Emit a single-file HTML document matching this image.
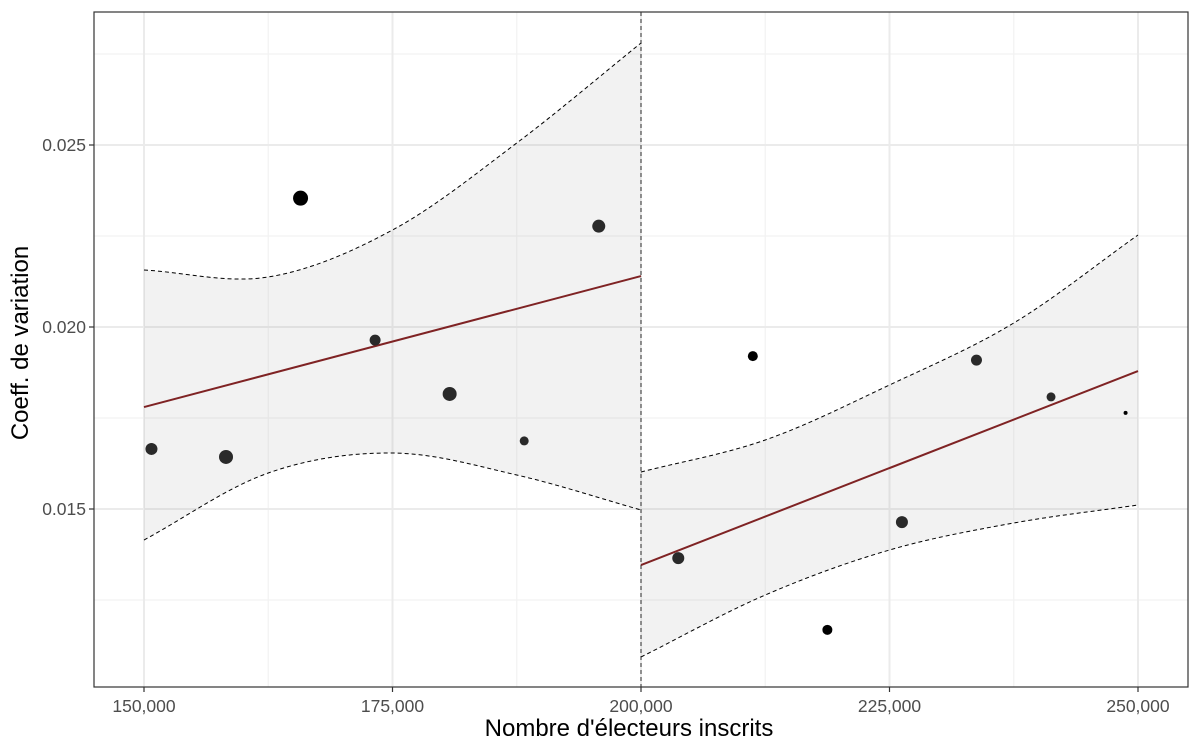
<!DOCTYPE html>
<html><head><meta charset="utf-8"><style>
body{margin:0;background:#fff}
svg text{font-family:"Liberation Sans",Arial,sans-serif}
</style></head><body>
<svg id="c" width="1200" height="750" xmlns="http://www.w3.org/2000/svg"></svg>
<script>
const xTicks=[150000,175000,200000,225000,250000];
const xTickLabels=["150,000","175,000","200,000","225,000","250,000"];
const xMinor=[162500,187500,212500,237500];
const yTicks=[0.015,0.020,0.025];
const yTickLabels=["0.015","0.020","0.025"];
const yMinor=[0.0125,0.0175,0.0225,0.0275];
const ptX=[150750,158250,165750,173250,180750,188250,195750,203750,211250,218750,226250,233750,241250,248750];
const ptY=[0.01665,0.01643,0.02354,0.01964,0.01816,0.01687,0.02277,0.01365,0.01920,0.01168,0.01464,0.01909,0.01808,0.01764];
const ptR=[6,7,7.5,5.5,7,4.5,6.5,6,5,5,6,5.5,4.5,2];
const ptC=["#2a2a2a","#2a2a2a","#000","#2a2a2a","#2a2a2a","#2a2a2a","#2a2a2a","#2a2a2a","#000","#000","#2a2a2a","#2a2a2a","#2a2a2a","#000"];
const bandX=[150000,162500,175000,187500,200000];
const leftUpper=[0.021566,0.021374,0.022665,0.025055,0.027802];
const leftLower=[0.014148,0.015989,0.016538,0.015934,0.014973];
const bandX2=[200000,212500,225000,237500,250000];
const rightUpper=[0.016016,0.016896,0.018407,0.020110,0.022527];
const rightLower=[0.010934,0.012637,0.013874,0.014615,0.015110];
const fitLeftX=[150000,200000], fitLeftY=[0.01780,0.02140];
const fitRightX=[200000,250000], fitRightY=[0.01346,0.01879];
const cutoff=200000;

const L=94,R=1188,T=12,B=687;
const sx=v=>144+(v-150000)/50000*497;
const sy=v=>327-(v-0.020)/0.005*182;
const svg=document.getElementById('c');
const NS="http://www.w3.org/2000/svg";
function mk(tag,attrs,name,parent){const e=document.createElementNS(NS,tag);for(const k in attrs)e.setAttribute(k,attrs[k]);


(parent||svg).appendChild(e);return e;}
function smooth(xs,ys){const p=xs.map((x,i)=>[sx(x),sy(ys[i])]);let d=`M${p[0][0]},${p[0][1]}`;
for(let i=0;i<p.length-1;i++){const p0=i>0?p[i-1]:[2*p[0][0]-p[1][0],2*p[0][1]-p[1][1]],p1=p[i],p2=p[i+1],n=p.length,p3=i+2<n?p[i+2]:[2*p[n-1][0]-p[n-2][0],2*p[n-1][1]-p[n-2][1]];
d+=` C${p1[0]+(p2[0]-p0[0])/6},${p1[1]+(p2[1]-p0[1])/6} ${p2[0]-(p3[0]-p1[0])/6},${p2[1]-(p3[1]-p1[1])/6} ${p2[0]},${p2[1]}`;}return d;}
function smoothRev(xs,ys){return smooth(xs.slice().reverse(),ys.slice().reverse());}
mk('rect',{x:L,y:T,width:R-L,height:B-T,fill:'#fff'},'plot-panel');
xMinor.forEach(v=>mk('line',{x1:sx(v),x2:sx(v),y1:T,y2:B,stroke:'#f2f2f2','stroke-width':1.2},'x-minor-grid'));
yMinor.forEach(v=>mk('line',{x1:L,x2:R,y1:sy(v),y2:sy(v),stroke:'#f2f2f2','stroke-width':1.2},'y-minor-grid'));
xTicks.forEach(v=>mk('line',{x1:sx(v),x2:sx(v),y1:T,y2:B,stroke:'#ebebeb','stroke-width':2},'x-major-grid'));
yTicks.forEach(v=>mk('line',{x1:L,x2:R,y1:sy(v),y2:sy(v),stroke:'#ebebeb','stroke-width':2},'y-major-grid'));
function band(xs,up,lo,name){
 const d=smooth(xs,up)+' L'+smoothRev(xs,lo).slice(1)+' Z';
 mk('path',{d:d,fill:'#999','fill-opacity':0.13,stroke:'none'},name+'-ci-band');
 mk('path',{d:smooth(xs,up),fill:'none',stroke:'#000','stroke-width':1,'stroke-dasharray':'4,3'},name+'-ci-upper');
 mk('path',{d:smooth(xs,lo),fill:'none',stroke:'#000','stroke-width':1,'stroke-dasharray':'4,3'},name+'-ci-lower');
}
band(bandX,leftUpper,leftLower,'left');
band(bandX2,rightUpper,rightLower,'right');
mk('line',{x1:sx(cutoff),x2:sx(cutoff),y1:T,y2:B,stroke:'#333','stroke-width':1,'stroke-dasharray':'4,3'},'cutoff-line');
mk('line',{x1:sx(fitLeftX[0]),y1:sy(fitLeftY[0]),x2:sx(fitLeftX[1]),y2:sy(fitLeftY[1]),stroke:'#7f2324','stroke-width':2},'left-fit-line');
mk('line',{x1:sx(fitRightX[0]),y1:sy(fitRightY[0]),x2:sx(fitRightX[1]),y2:sy(fitRightY[1]),stroke:'#7f2324','stroke-width':2},'right-fit-line');
ptX.forEach((x,i)=>mk('circle',{cx:sx(x),cy:sy(ptY[i]),r:ptR[i],fill:ptC[i]},'data-point'));
mk('rect',{x:L,y:T,width:R-L,height:B-T,fill:'none',stroke:'#333','stroke-width':1.2},'panel-border');
xTicks.forEach((v,i)=>{mk('line',{x1:sx(v),x2:sx(v),y1:B,y2:B+5,stroke:'#333','stroke-width':1.2},'x-tick');
 const t=mk('text',{x:sx(v),y:B+25,'text-anchor':'middle','font-size':17.5,fill:'#4d4d4d'},'x-tick-label');t.textContent=xTickLabels[i];});
yTicks.forEach((v,i)=>{mk('line',{x1:L-5,x2:L,y1:sy(v),y2:sy(v),stroke:'#333','stroke-width':1.2},'y-tick');
 const t=mk('text',{x:L-8,y:sy(v)+6,'text-anchor':'end','font-size':17.5,fill:'#4d4d4d'},'y-tick-label');t.textContent=yTickLabels[i];});
let t=mk('text',{x:629,y:736,'text-anchor':'middle','font-size':24,fill:'#000'},'x-axis-title');t.textContent="Nombre d'électeurs inscrits";
t=mk('text',{x:0,y:0,'text-anchor':'middle','font-size':24,fill:'#000',transform:'translate(28,343) rotate(-90)'},'y-axis-title');t.textContent="Coeff. de variation";
</script>
</body></html>
